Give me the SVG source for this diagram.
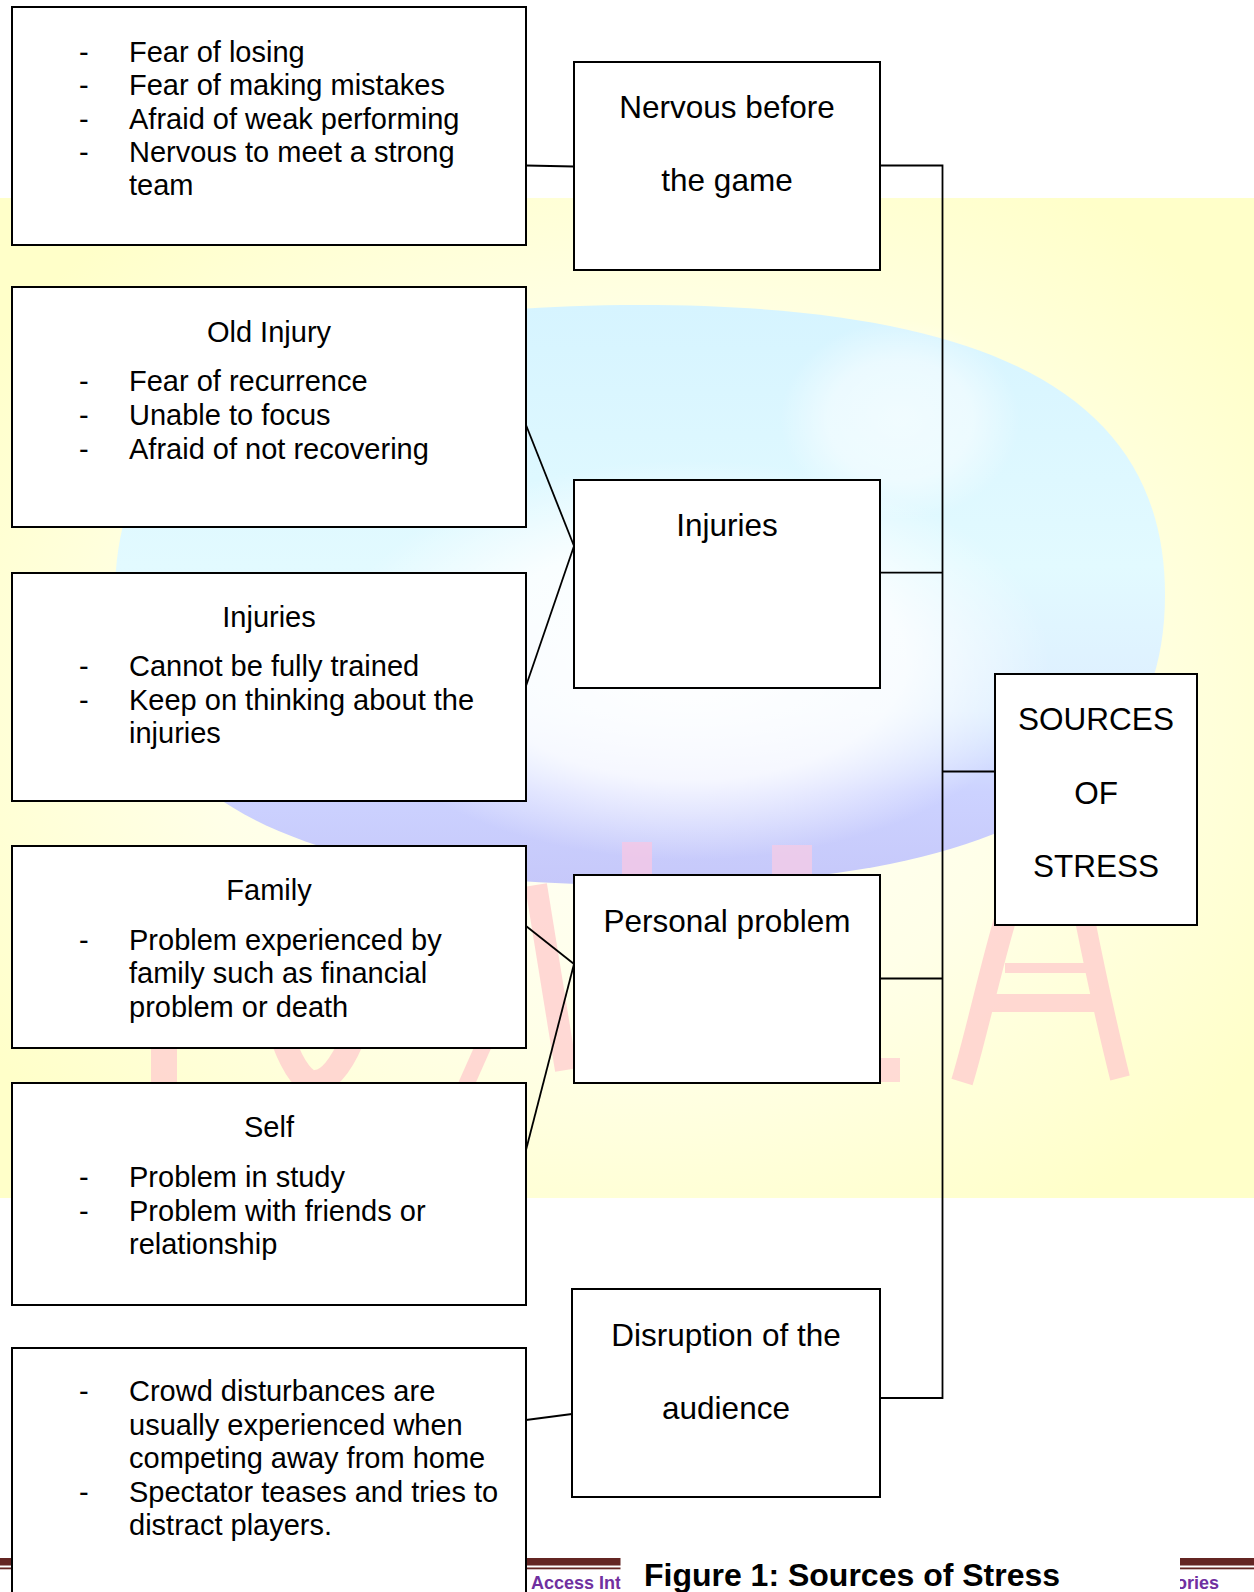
<svg xmlns="http://www.w3.org/2000/svg" width="1254" height="1592" viewBox="0 0 1254 1592">
  <defs>
    <radialGradient id="bgYellow" cx="50%" cy="50%" r="62%">
      <stop offset="0%" stop-color="#FFFFFA"/>
      <stop offset="55%" stop-color="#FFFFE8"/>
      <stop offset="100%" stop-color="#FFFFC9"/>
    </radialGradient>
    <linearGradient id="globeGrad" x1="0" y1="0" x2="0" y2="1">
      <stop offset="0%" stop-color="#D6F4FF"/>
      <stop offset="45%" stop-color="#E2FAFF"/>
      <stop offset="70%" stop-color="#DDEEFF"/>
      <stop offset="84%" stop-color="#CCD2FF"/>
      <stop offset="100%" stop-color="#C6C8FA"/>
    </linearGradient>
    <radialGradient id="globeHi" cx="50%" cy="50%" r="50%">
      <stop offset="0%" stop-color="#FFFFFF" stop-opacity="1"/>
      <stop offset="60%" stop-color="#FFFFFF" stop-opacity="0.8"/>
      <stop offset="100%" stop-color="#FFFFFF" stop-opacity="0"/>
    </radialGradient>
    <style>
      .box { fill: #FFFFFF; stroke: #000000; stroke-width: 2; }
      .conn { fill: none; stroke: #000000; stroke-width: 1.8; }
      .t { font-family: "Liberation Sans", Arial, sans-serif; font-size: 29px; fill: #000000; }
      .c { text-anchor: middle; }
      .m { font-family: "Liberation Sans", Arial, sans-serif; font-size: 31.5px; fill: #000000; text-anchor: middle; }
      .wm { fill: none; stroke: #FFCFCF; stroke-linecap: butt; stroke-linejoin: round; }
      .foot { font-family: "Liberation Sans", Arial, sans-serif; font-weight: bold; font-size: 18px; fill: #7030A0; }
    </style>
  </defs>

  <g id="background">
    <rect x="0" y="0" width="1254" height="1592" fill="#FFFFFF"/>
    <rect x="0" y="198" width="1254" height="1000" fill="url(#bgYellow)"/>
    <path d="M640,305 C997,305 1165,398 1165,595 C1165,792 997,885 640,885 C283,885 115,792 115,595 C115,398 283,305 640,305 Z" fill="url(#globeGrad)"/>
    <ellipse cx="690" cy="660" rx="360" ry="200" fill="url(#globeHi)"/>
    <ellipse cx="900" cy="420" rx="120" ry="100" fill="url(#globeHi)" opacity="0.6"/>
  </g>

  <g id="watermark" opacity="0.8">
    <line class="wm" x1="164" y1="1030" x2="164" y2="1085" stroke-width="26"/>
    <path class="wm" d="M283,1040 Q300,1085 316,1082 Q335,1080 352,1040" stroke-width="24"/>
    <line class="wm" x1="486" y1="1040" x2="466" y2="1085" stroke-width="16"/>
    <line class="wm" x1="536" y1="885" x2="566" y2="1070" stroke-width="22"/>
    <rect x="622" y="842" width="30" height="36" fill="#F6C8E6"/>
    <rect x="772" y="845" width="40" height="32" fill="#F4CCE8"/>
    <rect x="880" y="1058" width="20" height="24" fill="#FFD3D3"/>
    <path class="wm" d="M962,1082 C975,1040 990,970 1005,920" stroke-width="22"/>
    <path class="wm" d="M1085,920 C1095,970 1108,1030 1120,1078" stroke-width="20"/>
    <line class="wm" x1="992" y1="1003" x2="1100" y2="1003" stroke-width="18"/>
    <line class="wm" x1="1005" y1="968" x2="1090" y2="968" stroke-width="10"/>
  </g>

  <g id="footer-bars">
    <rect x="0" y="1558" width="1254" height="7.5" fill="#632523"/>
    <rect x="0" y="1567.5" width="1254" height="1.8" fill="#632523"/>
    <text class="foot" x="531" y="1589">Access Int</text>
    <text class="foot" x="1176" y="1589">ories</text>
  </g>

  <g id="connectors">
    <line class="conn" x1="526" y1="165.5" x2="574" y2="166.5"/>
    <line class="conn" x1="526" y1="425" x2="574" y2="546"/>
    <line class="conn" x1="526" y1="686" x2="574" y2="546"/>
    <line class="conn" x1="526" y1="926" x2="574" y2="964"/>
    <line class="conn" x1="526" y1="1150" x2="574" y2="964"/>
    <line class="conn" x1="526" y1="1420" x2="572" y2="1414"/>
    <polyline class="conn" points="880,165.5 942.5,165.5 942.5,1398 880,1398"/>
    <line class="conn" x1="880" y1="572.6" x2="942.5" y2="572.6"/>
    <line class="conn" x1="880" y1="978.5" x2="942.5" y2="978.5"/>
    <line class="conn" x1="942.5" y1="771.5" x2="995" y2="771.5"/>
  </g>

  <g id="node-fear">
    <rect class="box" x="12" y="7" width="514" height="238"/>
    <text class="t" x="79" y="62">-</text>
    <text class="t" x="129" y="62">Fear of losing</text>
    <text class="t" x="79" y="95.3">-</text>
    <text class="t" x="129" y="95.3">Fear of making mistakes</text>
    <text class="t" x="79" y="128.7">-</text>
    <text class="t" x="129" y="128.7">Afraid of weak performing</text>
    <text class="t" x="79" y="162">-</text>
    <text class="t" x="129" y="162">Nervous to meet a strong</text>
    <text class="t" x="129" y="195.3">team</text>
  </g>

  <g id="node-old-injury">
    <rect class="box" x="12" y="287" width="514" height="240"/>
    <text class="t c" x="269" y="341.5">Old Injury</text>
    <text class="t" x="79" y="391">-</text>
    <text class="t" x="129" y="391">Fear of recurrence</text>
    <text class="t" x="79" y="424.7">-</text>
    <text class="t" x="129" y="424.7">Unable to focus</text>
    <text class="t" x="79" y="458.5">-</text>
    <text class="t" x="129" y="458.5">Afraid of not recovering</text>
  </g>

  <g id="node-injuries-detail">
    <rect class="box" x="12" y="573" width="514" height="228"/>
    <text class="t c" x="269" y="626.5">Injuries</text>
    <text class="t" x="79" y="676">-</text>
    <text class="t" x="129" y="676">Cannot be fully trained</text>
    <text class="t" x="79" y="709.7">-</text>
    <text class="t" x="129" y="709.7">Keep on thinking about the</text>
    <text class="t" x="129" y="743.4">injuries</text>
  </g>

  <g id="node-family">
    <rect class="box" x="12" y="846" width="514" height="202"/>
    <text class="t c" x="269" y="900">Family</text>
    <text class="t" x="79" y="949.5">-</text>
    <text class="t" x="129" y="949.5">Problem experienced by</text>
    <text class="t" x="129" y="983.2">family such as financial</text>
    <text class="t" x="129" y="1016.8">problem or death</text>
  </g>

  <g id="node-self">
    <rect class="box" x="12" y="1083" width="514" height="222"/>
    <text class="t c" x="269" y="1137">Self</text>
    <text class="t" x="79" y="1187">-</text>
    <text class="t" x="129" y="1187">Problem in study</text>
    <text class="t" x="79" y="1220.7">-</text>
    <text class="t" x="129" y="1220.7">Problem with friends or</text>
    <text class="t" x="129" y="1254.4">relationship</text>
  </g>

  <g id="node-crowd">
    <rect class="box" x="12" y="1348" width="514" height="260"/>
    <text class="t" x="79" y="1401">-</text>
    <text class="t" x="129" y="1401">Crowd disturbances are</text>
    <text class="t" x="129" y="1434.5">usually experienced when</text>
    <text class="t" x="129" y="1468">competing away from home</text>
    <text class="t" x="79" y="1501.5">-</text>
    <text class="t" x="129" y="1501.5">Spectator teases and tries to</text>
    <text class="t" x="129" y="1535">distract players.</text>
  </g>

  <g id="node-nervous">
    <rect class="box" x="574" y="62" width="306" height="208"/>
    <text class="m" x="727" y="117.5">Nervous before</text>
    <text class="m" x="727" y="191">the game</text>
  </g>

  <g id="node-injuries">
    <rect class="box" x="574" y="480" width="306" height="208"/>
    <text class="m" x="727" y="536">Injuries</text>
  </g>

  <g id="node-personal">
    <rect class="box" x="574" y="875" width="306" height="208"/>
    <text class="m" x="727" y="931.5">Personal problem</text>
  </g>

  <g id="node-disruption">
    <rect class="box" x="572" y="1289" width="308" height="208"/>
    <text class="m" x="726" y="1345.5">Disruption of the</text>
    <text class="m" x="726" y="1418.5">audience</text>
  </g>

  <g id="node-sources">
    <rect class="box" x="995" y="674" width="202" height="251"/>
    <text class="m" x="1096" y="730">SOURCES</text>
    <text class="m" x="1096" y="803.5">OF</text>
    <text class="m" x="1096" y="877">STRESS</text>
  </g>

  <g id="caption">
    <rect x="620.5" y="1548" width="559.5" height="44" fill="#FFFFFF"/>
    <text x="852" y="1586" font-family="'Liberation Sans', Arial, sans-serif" font-weight="bold" font-size="32" text-anchor="middle" fill="#000000">Figure 1: Sources of Stress</text>
  </g>
</svg>
